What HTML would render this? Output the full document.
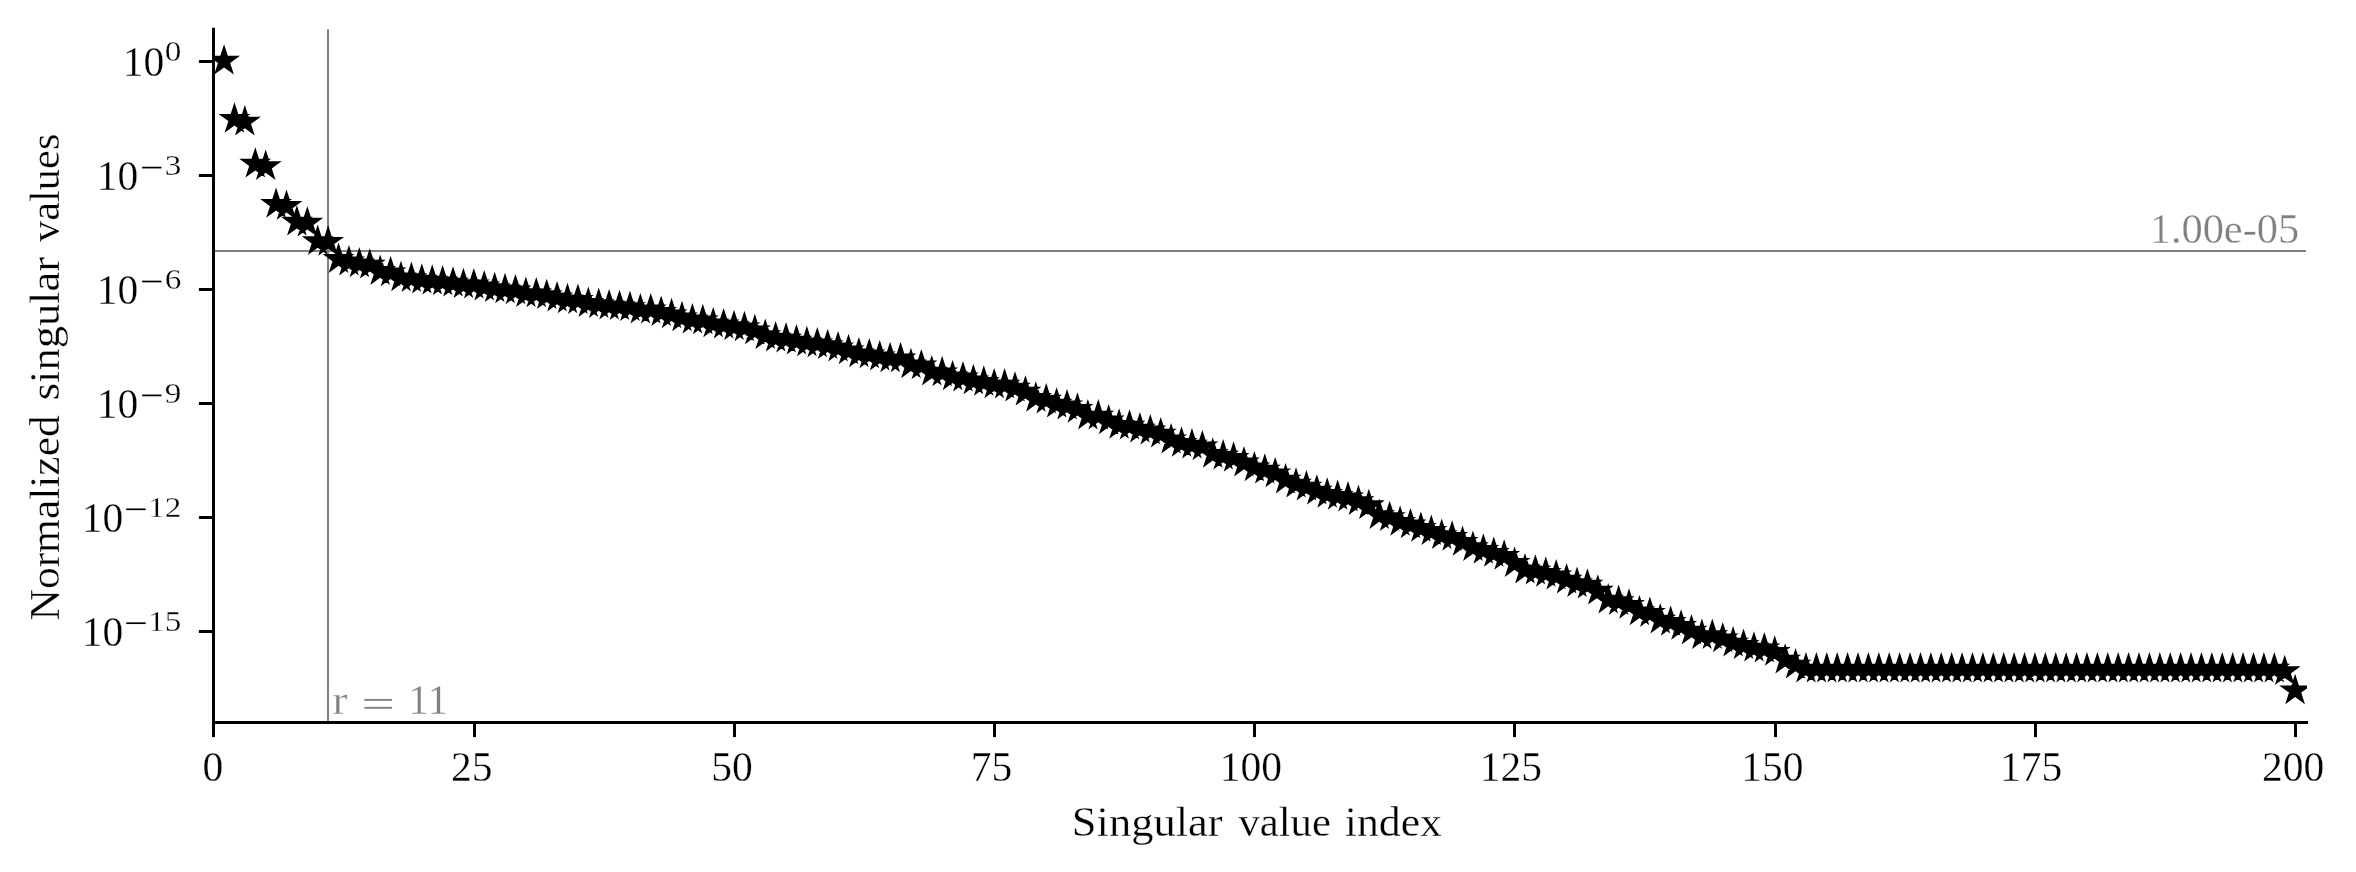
<!DOCTYPE html><html><head><meta charset="utf-8"><title>Singular values</title>
<style>html,body{margin:0;padding:0;background:#fff;}svg{display:block;will-change:transform;}text{font-family:"Liberation Serif",serif;stroke:#fff;stroke-width:0.3px;}</style></head><body>
<svg width="2356" height="872" viewBox="0 0 2356 872">
<rect width="2356" height="872" fill="#fff"/>
<defs><clipPath id="ax"><rect x="213.5" y="29.5" width="2093.5" height="693.0"/></clipPath></defs>
<line x1="213.5" x2="2306" y1="251" y2="251" stroke="#808080" stroke-width="2.05"/>
<line x1="328" x2="328" y1="29.2" y2="722.5" stroke="#808080" stroke-width="2.05"/>
<g clip-path="url(#ax)"><path d="M224.06,44.20L227.83,55.81L240.04,55.81L230.16,62.98L233.93,74.59L224.06,67.42L214.18,74.59L217.95,62.98L208.08,55.81L220.29,55.81ZM234.46,102.30L238.24,113.91L250.44,113.91L240.57,121.08L244.34,132.69L234.46,125.52L224.59,132.69L228.36,121.08L218.49,113.91L230.69,113.91ZM244.87,105.10L248.64,116.71L260.85,116.71L250.97,123.88L254.75,135.49L244.87,128.32L235.00,135.49L238.77,123.88L228.89,116.71L241.10,116.71ZM255.28,147.20L259.05,158.81L271.26,158.81L261.38,165.98L265.15,177.59L255.28,170.42L245.40,177.59L249.18,165.98L239.30,158.81L251.51,158.81ZM265.69,149.60L269.46,161.21L281.66,161.21L271.79,168.38L275.56,179.99L265.69,172.82L255.81,179.99L259.58,168.38L249.71,161.21L261.91,161.21ZM276.09,187.40L279.87,199.01L292.07,199.01L282.20,206.18L285.97,217.79L276.09,210.62L266.22,217.79L269.99,206.18L260.12,199.01L272.32,199.01ZM286.50,189.40L290.27,201.01L302.48,201.01L292.60,208.18L296.38,219.79L286.50,212.62L276.63,219.79L280.40,208.18L270.52,201.01L282.73,201.01ZM296.91,205.20L300.68,216.81L312.89,216.81L303.01,223.98L306.78,235.59L296.91,228.42L287.03,235.59L290.81,223.98L280.93,216.81L293.14,216.81ZM307.32,206.20L311.09,217.81L323.29,217.81L313.42,224.98L317.19,236.59L307.32,229.42L297.44,236.59L301.21,224.98L291.34,217.81L303.54,217.81ZM317.72,224.60L321.49,236.21L333.70,236.21L323.83,243.38L327.60,254.99L317.72,247.82L307.85,254.99L311.62,243.38L301.75,236.21L313.95,236.21ZM328.13,225.30L331.90,236.91L344.11,236.91L334.23,244.08L338.01,255.69L328.13,248.52L318.26,255.69L322.03,244.08L312.15,236.91L324.36,236.91ZM338.54,242.50L342.31,254.11L354.52,254.11L344.64,261.28L348.41,272.89L338.54,265.72L328.66,272.89L332.43,261.28L322.56,254.11L334.77,254.11ZM348.94,245.00L352.72,256.61L364.92,256.61L355.05,263.78L358.82,275.39L348.94,268.22L339.07,275.39L342.84,263.78L332.97,256.61L345.17,256.61ZM359.35,246.90L363.12,258.51L375.33,258.51L365.46,265.68L369.23,277.29L359.35,270.12L349.48,277.29L353.25,265.68L343.37,258.51L355.58,258.51ZM369.76,248.20L373.53,259.81L385.74,259.81L375.86,266.98L379.63,278.59L369.76,271.42L359.88,278.59L363.66,266.98L353.78,259.81L365.99,259.81ZM380.17,254.50L383.94,266.11L396.14,266.11L386.27,273.28L390.04,284.89L380.17,277.72L370.29,284.89L374.06,273.28L364.19,266.11L376.39,266.11ZM390.57,255.80L394.35,267.41L406.55,267.41L396.68,274.58L400.45,286.19L390.57,279.02L380.70,286.19L384.47,274.58L374.60,267.41L386.80,267.41ZM400.98,260.80L404.75,272.41L416.96,272.41L407.08,279.58L410.86,291.19L400.98,284.02L391.11,291.19L394.88,279.58L385.00,272.41L397.21,272.41ZM411.39,261.60L415.16,273.21L427.37,273.21L417.49,280.38L421.26,291.99L411.39,284.82L401.51,291.99L405.29,280.38L395.41,273.21L407.62,273.21ZM421.80,263.20L425.57,274.81L437.77,274.81L427.90,281.98L431.67,293.59L421.80,286.42L411.92,293.59L415.69,281.98L405.82,274.81L418.02,274.81ZM432.20,264.20L435.98,275.81L448.18,275.81L438.31,282.98L442.08,294.59L432.20,287.42L422.33,294.59L426.10,282.98L416.23,275.81L428.43,275.81ZM442.61,264.90L446.38,276.51L458.59,276.51L448.71,283.68L452.49,295.29L442.61,288.12L432.74,295.29L436.51,283.68L426.63,276.51L438.84,276.51ZM453.02,266.20L456.79,277.81L469.00,277.81L459.12,284.98L462.89,296.59L453.02,289.42L443.14,296.59L446.91,284.98L437.04,277.81L449.25,277.81ZM463.43,267.70L467.20,279.31L479.40,279.31L469.53,286.48L473.30,298.09L463.43,290.92L453.55,298.09L457.32,286.48L447.45,279.31L459.65,279.31ZM473.83,268.00L477.60,279.61L489.81,279.61L479.94,286.78L483.71,298.39L473.83,291.22L463.96,298.39L467.73,286.78L457.85,279.61L470.06,279.61ZM484.24,270.00L488.01,281.61L500.22,281.61L490.34,288.78L494.11,300.39L484.24,293.22L474.37,300.39L478.14,288.78L468.26,281.61L480.47,281.61ZM494.65,271.70L498.42,283.31L510.62,283.31L500.75,290.48L504.52,302.09L494.65,294.92L484.77,302.09L488.54,290.48L478.67,283.31L490.88,283.31ZM505.05,272.80L508.83,284.41L521.03,284.41L511.16,291.58L514.93,303.19L505.05,296.02L495.18,303.19L498.95,291.58L489.08,284.41L501.28,284.41ZM515.46,273.90L519.23,285.51L531.44,285.51L521.56,292.68L525.34,304.29L515.46,297.12L505.59,304.29L509.36,292.68L499.48,285.51L511.69,285.51ZM525.87,276.60L529.64,288.21L541.85,288.21L531.97,295.38L535.74,306.99L525.87,299.82L515.99,306.99L519.77,295.38L509.89,288.21L522.10,288.21ZM536.28,276.90L540.05,288.51L552.25,288.51L542.38,295.68L546.15,307.29L536.28,300.12L526.40,307.29L530.17,295.68L520.30,288.51L532.50,288.51ZM546.68,278.70L550.46,290.31L562.66,290.31L552.79,297.48L556.56,309.09L546.68,301.92L536.81,309.09L540.58,297.48L530.71,290.31L542.91,290.31ZM557.09,281.00L560.86,292.61L573.07,292.61L563.19,299.78L566.97,311.39L557.09,304.22L547.22,311.39L550.99,299.78L541.11,292.61L553.32,292.61ZM567.50,282.80L571.27,294.41L583.48,294.41L573.60,301.58L577.37,313.19L567.50,306.02L557.62,313.19L561.40,301.58L551.52,294.41L563.73,294.41ZM577.91,283.50L581.68,295.11L593.88,295.11L584.01,302.28L587.78,313.89L577.91,306.72L568.03,313.89L571.80,302.28L561.93,295.11L574.13,295.11ZM588.31,286.50L592.08,298.11L604.29,298.11L594.42,305.28L598.19,316.89L588.31,309.72L578.44,316.89L582.21,305.28L572.34,298.11L584.54,298.11ZM598.72,287.60L602.49,299.21L614.70,299.21L604.82,306.38L608.59,317.99L598.72,310.82L588.85,317.99L592.62,306.38L582.74,299.21L594.95,299.21ZM609.13,289.00L612.90,300.61L625.11,300.61L615.23,307.78L619.00,319.39L609.13,312.22L599.25,319.39L603.02,307.78L593.15,300.61L605.36,300.61ZM619.53,289.70L623.31,301.31L635.51,301.31L625.64,308.48L629.41,320.09L619.53,312.92L609.66,320.09L613.43,308.48L603.56,301.31L615.76,301.31ZM629.94,290.70L633.71,302.31L645.92,302.31L636.04,309.48L639.82,321.09L629.94,313.92L620.07,321.09L623.84,309.48L613.96,302.31L626.17,302.31ZM640.35,293.00L644.12,304.61L656.33,304.61L646.45,311.78L650.22,323.39L640.35,316.22L630.47,323.39L634.25,311.78L624.37,304.61L636.58,304.61ZM650.76,293.00L654.53,304.61L666.73,304.61L656.86,311.78L660.63,323.39L650.76,316.22L640.88,323.39L644.65,311.78L634.78,304.61L646.98,304.61ZM661.16,295.50L664.94,307.11L677.14,307.11L667.27,314.28L671.04,325.89L661.16,318.72L651.29,325.89L655.06,314.28L645.19,307.11L657.39,307.11ZM671.57,297.80L675.34,309.41L687.55,309.41L677.67,316.58L681.45,328.19L671.57,321.02L661.70,328.19L665.47,316.58L655.59,309.41L667.80,309.41ZM681.98,300.80L685.75,312.41L697.96,312.41L688.08,319.58L691.85,331.19L681.98,324.02L672.10,331.19L675.88,319.58L666.00,312.41L678.21,312.41ZM692.39,303.00L696.16,314.61L708.36,314.61L698.49,321.78L702.26,333.39L692.39,326.22L682.51,333.39L686.28,321.78L676.41,314.61L688.61,314.61ZM702.79,303.80L706.56,315.41L718.77,315.41L708.90,322.58L712.67,334.19L702.79,327.02L692.92,334.19L696.69,322.58L686.82,315.41L699.02,315.41ZM713.20,306.90L716.97,318.51L729.18,318.51L719.30,325.68L723.08,337.29L713.20,330.12L703.33,337.29L707.10,325.68L697.22,318.51L709.43,318.51ZM723.61,308.00L727.38,319.61L739.59,319.61L729.71,326.78L733.48,338.39L723.61,331.22L713.73,338.39L717.50,326.78L707.63,319.61L719.84,319.61ZM734.01,309.70L737.79,321.31L749.99,321.31L740.12,328.48L743.89,340.09L734.01,332.92L724.14,340.09L727.91,328.48L718.04,321.31L730.24,321.31ZM744.42,310.80L748.19,322.41L760.40,322.41L750.53,329.58L754.30,341.19L744.42,334.02L734.55,341.19L738.32,329.58L728.44,322.41L740.65,322.41ZM754.83,313.80L758.60,325.41L770.81,325.41L760.93,332.58L764.70,344.19L754.83,337.02L744.95,344.19L748.73,332.58L738.85,325.41L751.06,325.41ZM765.24,318.60L769.01,330.21L781.21,330.21L771.34,337.38L775.11,348.99L765.24,341.82L755.36,348.99L759.13,337.38L749.26,330.21L761.47,330.21ZM775.64,321.10L779.42,332.71L791.62,332.71L781.75,339.88L785.52,351.49L775.64,344.32L765.77,351.49L769.54,339.88L759.67,332.71L771.87,332.71ZM786.05,322.10L789.82,333.71L802.03,333.71L792.15,340.88L795.93,352.49L786.05,345.32L776.18,352.49L779.95,340.88L770.07,333.71L782.28,333.71ZM796.46,324.10L800.23,335.71L812.44,335.71L802.56,342.88L806.33,354.49L796.46,347.32L786.58,354.49L790.36,342.88L780.48,335.71L792.69,335.71ZM806.87,325.80L810.64,337.41L822.84,337.41L812.97,344.58L816.74,356.19L806.87,349.02L796.99,356.19L800.76,344.58L790.89,337.41L803.09,337.41ZM817.27,326.90L821.05,338.51L833.25,338.51L823.38,345.68L827.15,357.29L817.27,350.12L807.40,357.29L811.17,345.68L801.30,338.51L813.50,338.51ZM827.68,328.70L831.45,340.31L843.66,340.31L833.78,347.48L837.56,359.09L827.68,351.92L817.81,359.09L821.58,347.48L811.70,340.31L823.91,340.31ZM838.09,331.00L841.86,342.61L854.07,342.61L844.19,349.78L847.96,361.39L838.09,354.22L828.21,361.39L831.99,349.78L822.11,342.61L834.32,342.61ZM848.50,333.80L852.27,345.41L864.47,345.41L854.60,352.58L858.37,364.19L848.50,357.02L838.62,364.19L842.39,352.58L832.52,345.41L844.72,345.41ZM858.90,336.90L862.67,348.51L874.88,348.51L865.01,355.68L868.78,367.29L858.90,360.12L849.03,367.29L852.80,355.68L842.92,348.51L855.13,348.51ZM869.31,337.90L873.08,349.51L885.29,349.51L875.41,356.68L879.18,368.29L869.31,361.12L859.44,368.29L863.21,356.68L853.33,349.51L865.54,349.51ZM879.72,340.00L883.49,351.61L895.69,351.61L885.82,358.78L889.59,370.39L879.72,363.22L869.84,370.39L873.61,358.78L863.74,351.61L875.95,351.61ZM890.12,341.80L893.90,353.41L906.10,353.41L896.23,360.58L900.00,372.19L890.12,365.02L880.25,372.19L884.02,360.58L874.15,353.41L886.35,353.41ZM900.53,341.80L904.30,353.41L916.51,353.41L906.63,360.58L910.41,372.19L900.53,365.02L890.66,372.19L894.43,360.58L884.55,353.41L896.76,353.41ZM910.94,347.80L914.71,359.41L926.92,359.41L917.04,366.58L920.81,378.19L910.94,371.02L901.06,378.19L904.84,366.58L894.96,359.41L907.17,359.41ZM921.35,348.90L925.12,360.51L937.32,360.51L927.45,367.68L931.22,379.29L921.35,372.12L911.47,379.29L915.24,367.68L905.37,360.51L917.57,360.51ZM931.75,355.10L935.53,366.71L947.73,366.71L937.86,373.88L941.63,385.49L931.75,378.32L921.88,385.49L925.65,373.88L915.78,366.71L927.98,366.71ZM942.16,355.80L945.93,367.41L958.14,367.41L948.26,374.58L952.04,386.19L942.16,379.02L932.29,386.19L936.06,374.58L926.18,367.41L938.39,367.41ZM952.57,359.90L956.34,371.51L968.55,371.51L958.67,378.68L962.44,390.29L952.57,383.12L942.69,390.29L946.47,378.68L936.59,371.51L948.80,371.51ZM962.98,361.00L966.75,372.61L978.95,372.61L969.08,379.78L972.85,391.39L962.98,384.22L953.10,391.39L956.87,379.78L947.00,372.61L959.20,372.61ZM973.38,363.80L977.15,375.41L989.36,375.41L979.49,382.58L983.26,394.19L973.38,387.02L963.51,394.19L967.28,382.58L957.41,375.41L969.61,375.41ZM983.79,365.30L987.56,376.91L999.77,376.91L989.89,384.08L993.66,395.69L983.79,388.52L973.92,395.69L977.69,384.08L967.81,376.91L980.02,376.91ZM994.20,367.90L997.97,379.51L1010.18,379.51L1000.30,386.68L1004.07,398.29L994.20,391.12L984.32,398.29L988.09,386.68L978.22,379.51L990.43,379.51ZM1004.60,368.10L1008.38,379.71L1020.58,379.71L1010.71,386.88L1014.48,398.49L1004.60,391.32L994.73,398.49L998.50,386.88L988.63,379.71L1000.83,379.71ZM1015.01,371.20L1018.78,382.81L1030.99,382.81L1021.12,389.98L1024.89,401.59L1015.01,394.42L1005.14,401.59L1008.91,389.98L999.03,382.81L1011.24,382.81ZM1025.42,375.20L1029.19,386.81L1041.40,386.81L1031.52,393.98L1035.29,405.59L1025.42,398.42L1015.54,405.59L1019.32,393.98L1009.44,386.81L1021.65,386.81ZM1035.83,381.30L1039.60,392.91L1051.80,392.91L1041.93,400.08L1045.70,411.69L1035.83,404.52L1025.95,411.69L1029.72,400.08L1019.85,392.91L1032.05,392.91ZM1046.23,383.10L1050.01,394.71L1062.21,394.71L1052.34,401.88L1056.11,413.49L1046.23,406.32L1036.36,413.49L1040.13,401.88L1030.26,394.71L1042.46,394.71ZM1056.64,387.20L1060.41,398.81L1072.62,398.81L1062.74,405.98L1066.52,417.59L1056.64,410.42L1046.77,417.59L1050.54,405.98L1040.66,398.81L1052.87,398.81ZM1067.05,389.00L1070.82,400.61L1083.03,400.61L1073.15,407.78L1076.92,419.39L1067.05,412.22L1057.17,419.39L1060.95,407.78L1051.07,400.61L1063.28,400.61ZM1077.46,392.30L1081.23,403.91L1093.43,403.91L1083.56,411.08L1087.33,422.69L1077.46,415.52L1067.58,422.69L1071.35,411.08L1061.48,403.91L1073.68,403.91ZM1087.86,399.10L1091.64,410.71L1103.84,410.71L1093.97,417.88L1097.74,429.49L1087.86,422.32L1077.99,429.49L1081.76,417.88L1071.89,410.71L1084.09,410.71ZM1098.27,399.10L1102.04,410.71L1114.25,410.71L1104.37,417.88L1108.15,429.49L1098.27,422.32L1088.40,429.49L1092.17,417.88L1082.29,410.71L1094.50,410.71ZM1108.68,403.90L1112.45,415.51L1124.66,415.51L1114.78,422.68L1118.55,434.29L1108.68,427.12L1098.80,434.29L1102.57,422.68L1092.70,415.51L1104.91,415.51ZM1119.09,408.30L1122.86,419.91L1135.06,419.91L1125.19,427.08L1128.96,438.69L1119.09,431.52L1109.21,438.69L1112.98,427.08L1103.11,419.91L1115.31,419.91ZM1129.49,409.20L1133.26,420.81L1145.47,420.81L1135.60,427.98L1139.37,439.59L1129.49,432.42L1119.62,439.59L1123.39,427.98L1113.51,420.81L1125.72,420.81ZM1139.90,412.10L1143.67,423.71L1155.88,423.71L1146.00,430.88L1149.77,442.49L1139.90,435.32L1130.02,442.49L1133.80,430.88L1123.92,423.71L1136.13,423.71ZM1150.31,414.00L1154.08,425.61L1166.28,425.61L1156.41,432.78L1160.18,444.39L1150.31,437.22L1140.43,444.39L1144.20,432.78L1134.33,425.61L1146.54,425.61ZM1160.71,417.10L1164.49,428.71L1176.69,428.71L1166.82,435.88L1170.59,447.49L1160.71,440.32L1150.84,447.49L1154.61,435.88L1144.74,428.71L1156.94,428.71ZM1171.12,423.00L1174.89,434.61L1187.10,434.61L1177.22,441.78L1181.00,453.39L1171.12,446.22L1161.25,453.39L1165.02,441.78L1155.14,434.61L1167.35,434.61ZM1181.53,426.30L1185.30,437.91L1197.51,437.91L1187.63,445.08L1191.40,456.69L1181.53,449.52L1171.65,456.69L1175.43,445.08L1165.55,437.91L1177.76,437.91ZM1191.94,428.10L1195.71,439.71L1207.91,439.71L1198.04,446.88L1201.81,458.49L1191.94,451.32L1182.06,458.49L1185.83,446.88L1175.96,439.71L1188.16,439.71ZM1202.34,429.90L1206.12,441.51L1218.32,441.51L1208.45,448.68L1212.22,460.29L1202.34,453.12L1192.47,460.29L1196.24,448.68L1186.37,441.51L1198.57,441.51ZM1212.75,437.30L1216.52,448.91L1228.73,448.91L1218.85,456.08L1222.63,467.69L1212.75,460.52L1202.88,467.69L1206.65,456.08L1196.77,448.91L1208.98,448.91ZM1223.16,439.10L1226.93,450.71L1239.14,450.71L1229.26,457.88L1233.03,469.49L1223.16,462.32L1213.28,469.49L1217.06,457.88L1207.18,450.71L1219.39,450.71ZM1233.57,441.30L1237.34,452.91L1249.54,452.91L1239.67,460.08L1243.44,471.69L1233.57,464.52L1223.69,471.69L1227.46,460.08L1217.59,452.91L1229.79,452.91ZM1243.97,446.00L1247.74,457.61L1259.95,457.61L1250.08,464.78L1253.85,476.39L1243.97,469.22L1234.10,476.39L1237.87,464.78L1227.99,457.61L1240.20,457.61ZM1254.38,450.90L1258.15,462.51L1270.36,462.51L1260.48,469.68L1264.25,481.29L1254.38,474.12L1244.51,481.29L1248.28,469.68L1238.40,462.51L1250.61,462.51ZM1264.79,453.20L1268.56,464.81L1280.77,464.81L1270.89,471.98L1274.66,483.59L1264.79,476.42L1254.91,483.59L1258.68,471.98L1248.81,464.81L1261.02,464.81ZM1275.19,456.90L1278.97,468.51L1291.17,468.51L1281.30,475.68L1285.07,487.29L1275.19,480.12L1265.32,487.29L1269.09,475.68L1259.22,468.51L1271.42,468.51ZM1285.60,463.10L1289.37,474.71L1301.58,474.71L1291.70,481.88L1295.48,493.49L1285.60,486.32L1275.73,493.49L1279.50,481.88L1269.62,474.71L1281.83,474.71ZM1296.01,467.20L1299.78,478.81L1311.99,478.81L1302.11,485.98L1305.88,497.59L1296.01,490.42L1286.13,497.59L1289.91,485.98L1280.03,478.81L1292.24,478.81ZM1306.42,470.10L1310.19,481.71L1322.39,481.71L1312.52,488.88L1316.29,500.49L1306.42,493.32L1296.54,500.49L1300.31,488.88L1290.44,481.71L1302.64,481.71ZM1316.82,474.20L1320.60,485.81L1332.80,485.81L1322.93,492.98L1326.70,504.59L1316.82,497.42L1306.95,504.59L1310.72,492.98L1300.85,485.81L1313.05,485.81ZM1327.23,477.30L1331.00,488.91L1343.21,488.91L1333.33,496.08L1337.11,507.69L1327.23,500.52L1317.36,507.69L1321.13,496.08L1311.25,488.91L1323.46,488.91ZM1337.64,479.40L1341.41,491.01L1353.62,491.01L1343.74,498.18L1347.51,509.79L1337.64,502.62L1327.76,509.79L1331.54,498.18L1321.66,491.01L1333.87,491.01ZM1348.05,481.00L1351.82,492.61L1364.02,492.61L1354.15,499.78L1357.92,511.39L1348.05,504.22L1338.17,511.39L1341.94,499.78L1332.07,492.61L1344.27,492.61ZM1358.45,484.60L1362.22,496.21L1374.43,496.21L1364.56,503.38L1368.33,514.99L1358.45,507.82L1348.58,514.99L1352.35,503.38L1342.48,496.21L1354.68,496.21ZM1368.86,488.70L1372.63,500.31L1384.84,500.31L1374.96,507.48L1378.74,519.09L1368.86,511.92L1358.99,519.09L1362.76,507.48L1352.88,500.31L1365.09,500.31ZM1379.27,498.60L1383.04,510.21L1395.25,510.21L1385.37,517.38L1389.14,528.99L1379.27,521.82L1369.39,528.99L1373.16,517.38L1363.29,510.21L1375.50,510.21ZM1389.67,500.70L1393.45,512.31L1405.65,512.31L1395.78,519.48L1399.55,531.09L1389.67,523.92L1379.80,531.09L1383.57,519.48L1373.70,512.31L1385.90,512.31ZM1400.08,505.40L1403.85,517.01L1416.06,517.01L1406.19,524.18L1409.96,535.79L1400.08,528.62L1390.21,535.79L1393.98,524.18L1384.10,517.01L1396.31,517.01ZM1410.49,507.90L1414.26,519.51L1426.47,519.51L1416.59,526.68L1420.36,538.29L1410.49,531.12L1400.61,538.29L1404.39,526.68L1394.51,519.51L1406.72,519.51ZM1420.90,511.40L1424.67,523.01L1436.87,523.01L1427.00,530.18L1430.77,541.79L1420.90,534.62L1411.02,541.79L1414.79,530.18L1404.92,523.01L1417.12,523.01ZM1431.30,514.50L1435.08,526.11L1447.28,526.11L1437.41,533.28L1441.18,544.89L1431.30,537.72L1421.43,544.89L1425.20,533.28L1415.33,526.11L1427.53,526.11ZM1441.71,518.60L1445.48,530.21L1457.69,530.21L1447.81,537.38L1451.59,548.99L1441.71,541.82L1431.84,548.99L1435.61,537.38L1425.73,530.21L1437.94,530.21ZM1452.12,520.30L1455.89,531.91L1468.10,531.91L1458.22,539.08L1461.99,550.69L1452.12,543.52L1442.24,550.69L1446.02,539.08L1436.14,531.91L1448.35,531.91ZM1462.53,525.40L1466.30,537.01L1478.50,537.01L1468.63,544.18L1472.40,555.79L1462.53,548.62L1452.65,555.79L1456.42,544.18L1446.55,537.01L1458.75,537.01ZM1472.93,530.60L1476.71,542.21L1488.91,542.21L1479.04,549.38L1482.81,560.99L1472.93,553.82L1463.06,560.99L1466.83,549.38L1456.96,542.21L1469.16,542.21ZM1483.34,533.30L1487.11,544.91L1499.32,544.91L1489.44,552.08L1493.22,563.69L1483.34,556.52L1473.47,563.69L1477.24,552.08L1467.36,544.91L1479.57,544.91ZM1493.75,536.40L1497.52,548.01L1509.73,548.01L1499.85,555.18L1503.62,566.79L1493.75,559.62L1483.87,566.79L1487.64,555.18L1477.77,548.01L1489.98,548.01ZM1504.16,539.30L1507.93,550.91L1520.13,550.91L1510.26,558.08L1514.03,569.69L1504.16,562.52L1494.28,569.69L1498.05,558.08L1488.18,550.91L1500.38,550.91ZM1514.56,546.50L1518.33,558.11L1530.54,558.11L1520.67,565.28L1524.44,576.89L1514.56,569.72L1504.69,576.89L1508.46,565.28L1498.58,558.11L1510.79,558.11ZM1524.97,553.00L1528.74,564.61L1540.95,564.61L1531.07,571.78L1534.84,583.39L1524.97,576.22L1515.10,583.39L1518.87,571.78L1508.99,564.61L1521.20,564.61ZM1535.38,554.20L1539.15,565.81L1551.35,565.81L1541.48,572.98L1545.25,584.59L1535.38,577.42L1525.50,584.59L1529.27,572.98L1519.40,565.81L1531.61,565.81ZM1545.78,556.30L1549.56,567.91L1561.76,567.91L1551.89,575.08L1555.66,586.69L1545.78,579.52L1535.91,586.69L1539.68,575.08L1529.81,567.91L1542.01,567.91ZM1556.19,559.00L1559.96,570.61L1572.17,570.61L1562.29,577.78L1566.07,589.39L1556.19,582.22L1546.32,589.39L1550.09,577.78L1540.21,570.61L1552.42,570.61ZM1566.60,563.10L1570.37,574.71L1582.58,574.71L1572.70,581.88L1576.47,593.49L1566.60,586.32L1556.72,593.49L1560.50,581.88L1550.62,574.71L1562.83,574.71ZM1577.01,566.60L1580.78,578.21L1592.98,578.21L1583.11,585.38L1586.88,596.99L1577.01,589.82L1567.13,596.99L1570.90,585.38L1561.03,578.21L1573.23,578.21ZM1587.41,568.20L1591.19,579.81L1603.39,579.81L1593.52,586.98L1597.29,598.59L1587.41,591.42L1577.54,598.59L1581.31,586.98L1571.44,579.81L1583.64,579.81ZM1597.82,574.20L1601.59,585.81L1613.80,585.81L1603.92,592.98L1607.70,604.59L1597.82,597.42L1587.95,604.59L1591.72,592.98L1581.84,585.81L1594.05,585.81ZM1608.23,583.10L1612.00,594.71L1624.21,594.71L1614.33,601.88L1618.10,613.49L1608.23,606.32L1598.35,613.49L1602.13,601.88L1592.25,594.71L1604.46,594.71ZM1618.64,584.60L1622.41,596.21L1634.61,596.21L1624.74,603.38L1628.51,614.99L1618.64,607.82L1608.76,614.99L1612.53,603.38L1602.66,596.21L1614.86,596.21ZM1629.04,588.30L1632.81,599.91L1645.02,599.91L1635.15,607.08L1638.92,618.69L1629.04,611.52L1619.17,618.69L1622.94,607.08L1613.07,599.91L1625.27,599.91ZM1639.45,594.90L1643.22,606.51L1655.43,606.51L1645.55,613.68L1649.32,625.29L1639.45,618.12L1629.58,625.29L1633.35,613.68L1623.47,606.51L1635.68,606.51ZM1649.86,596.50L1653.63,608.11L1665.84,608.11L1655.96,615.28L1659.73,626.89L1649.86,619.72L1639.98,626.89L1643.75,615.28L1633.88,608.11L1646.09,608.11ZM1660.26,603.10L1664.04,614.71L1676.24,614.71L1666.37,621.88L1670.14,633.49L1660.26,626.32L1650.39,633.49L1654.16,621.88L1644.29,614.71L1656.49,614.71ZM1670.67,605.40L1674.44,617.01L1686.65,617.01L1676.77,624.18L1680.55,635.79L1670.67,628.62L1660.80,635.79L1664.57,624.18L1654.69,617.01L1666.90,617.01ZM1681.08,609.30L1684.85,620.91L1697.06,620.91L1687.18,628.08L1690.95,639.69L1681.08,632.52L1671.20,639.69L1674.98,628.08L1665.10,620.91L1677.31,620.91ZM1691.49,614.10L1695.26,625.71L1707.46,625.71L1697.59,632.88L1701.36,644.49L1691.49,637.32L1681.61,644.49L1685.38,632.88L1675.51,625.71L1687.71,625.71ZM1701.89,618.60L1705.67,630.21L1717.87,630.21L1708.00,637.38L1711.77,648.99L1701.89,641.82L1692.02,648.99L1695.79,637.38L1685.92,630.21L1698.12,630.21ZM1712.30,618.60L1716.07,630.21L1728.28,630.21L1718.40,637.38L1722.18,648.99L1712.30,641.82L1702.43,648.99L1706.20,637.38L1696.32,630.21L1708.53,630.21ZM1722.71,621.90L1726.48,633.51L1738.69,633.51L1728.81,640.68L1732.58,652.29L1722.71,645.12L1712.83,652.29L1716.61,640.68L1706.73,633.51L1718.94,633.51ZM1733.12,626.10L1736.89,637.71L1749.09,637.71L1739.22,644.88L1742.99,656.49L1733.12,649.32L1723.24,656.49L1727.01,644.88L1717.14,637.71L1729.34,637.71ZM1743.52,628.50L1747.29,640.11L1759.50,640.11L1749.63,647.28L1753.40,658.89L1743.52,651.72L1733.65,658.89L1737.42,647.28L1727.55,640.11L1739.75,640.11ZM1753.93,631.20L1757.70,642.81L1769.91,642.81L1760.03,649.98L1763.81,661.59L1753.93,654.42L1744.06,661.59L1747.83,649.98L1737.95,642.81L1750.16,642.81ZM1764.34,632.00L1768.11,643.61L1780.32,643.61L1770.44,650.78L1774.21,662.39L1764.34,655.22L1754.46,662.39L1758.23,650.78L1748.36,643.61L1760.57,643.61ZM1774.74,635.30L1778.52,646.91L1790.72,646.91L1780.85,654.08L1784.62,665.69L1774.74,658.52L1764.87,665.69L1768.64,654.08L1758.77,646.91L1770.97,646.91ZM1785.15,643.20L1788.92,654.81L1801.13,654.81L1791.26,661.98L1795.03,673.59L1785.15,666.42L1775.28,673.59L1779.05,661.98L1769.17,654.81L1781.38,654.81ZM1795.56,648.10L1799.33,659.71L1811.54,659.71L1801.66,666.88L1805.43,678.49L1795.56,671.32L1785.68,678.49L1789.46,666.88L1779.58,659.71L1791.79,659.71ZM1805.97,652.10L1809.74,663.71L1821.94,663.71L1812.07,670.88L1815.84,682.49L1805.97,675.32L1796.09,682.49L1799.86,670.88L1789.99,663.71L1802.20,663.71ZM1816.37,652.10L1820.15,663.71L1832.35,663.71L1822.48,670.88L1826.25,682.49L1816.37,675.32L1806.50,682.49L1810.27,670.88L1800.40,663.71L1812.60,663.71ZM1826.78,652.10L1830.55,663.71L1842.76,663.71L1832.88,670.88L1836.66,682.49L1826.78,675.32L1816.91,682.49L1820.68,670.88L1810.80,663.71L1823.01,663.71ZM1837.19,652.10L1840.96,663.71L1853.17,663.71L1843.29,670.88L1847.06,682.49L1837.19,675.32L1827.31,682.49L1831.09,670.88L1821.21,663.71L1833.42,663.71ZM1847.60,652.10L1851.37,663.71L1863.57,663.71L1853.70,670.88L1857.47,682.49L1847.60,675.32L1837.72,682.49L1841.49,670.88L1831.62,663.71L1843.82,663.71ZM1858.00,652.10L1861.78,663.71L1873.98,663.71L1864.11,670.88L1867.88,682.49L1858.00,675.32L1848.13,682.49L1851.90,670.88L1842.03,663.71L1854.23,663.71ZM1868.41,652.10L1872.18,663.71L1884.39,663.71L1874.51,670.88L1878.29,682.49L1868.41,675.32L1858.54,682.49L1862.31,670.88L1852.43,663.71L1864.64,663.71ZM1878.82,652.10L1882.59,663.71L1894.80,663.71L1884.92,670.88L1888.69,682.49L1878.82,675.32L1868.94,682.49L1872.72,670.88L1862.84,663.71L1875.05,663.71ZM1889.23,652.10L1893.00,663.71L1905.20,663.71L1895.33,670.88L1899.10,682.49L1889.23,675.32L1879.35,682.49L1883.12,670.88L1873.25,663.71L1885.45,663.71ZM1899.63,652.10L1903.40,663.71L1915.61,663.71L1905.74,670.88L1909.51,682.49L1899.63,675.32L1889.76,682.49L1893.53,670.88L1883.65,663.71L1895.86,663.71ZM1910.04,652.10L1913.81,663.71L1926.02,663.71L1916.14,670.88L1919.91,682.49L1910.04,675.32L1900.17,682.49L1903.94,670.88L1894.06,663.71L1906.27,663.71ZM1920.45,652.10L1924.22,663.71L1936.42,663.71L1926.55,670.88L1930.32,682.49L1920.45,675.32L1910.57,682.49L1914.34,670.88L1904.47,663.71L1916.68,663.71ZM1930.85,652.10L1934.63,663.71L1946.83,663.71L1936.96,670.88L1940.73,682.49L1930.85,675.32L1920.98,682.49L1924.75,670.88L1914.88,663.71L1927.08,663.71ZM1941.26,652.10L1945.03,663.71L1957.24,663.71L1947.36,670.88L1951.14,682.49L1941.26,675.32L1931.39,682.49L1935.16,670.88L1925.28,663.71L1937.49,663.71ZM1951.67,652.10L1955.44,663.71L1967.65,663.71L1957.77,670.88L1961.54,682.49L1951.67,675.32L1941.79,682.49L1945.57,670.88L1935.69,663.71L1947.90,663.71ZM1962.08,652.10L1965.85,663.71L1978.05,663.71L1968.18,670.88L1971.95,682.49L1962.08,675.32L1952.20,682.49L1955.97,670.88L1946.10,663.71L1958.30,663.71ZM1972.48,652.10L1976.26,663.71L1988.46,663.71L1978.59,670.88L1982.36,682.49L1972.48,675.32L1962.61,682.49L1966.38,670.88L1956.51,663.71L1968.71,663.71ZM1982.89,652.10L1986.66,663.71L1998.87,663.71L1988.99,670.88L1992.77,682.49L1982.89,675.32L1973.02,682.49L1976.79,670.88L1966.91,663.71L1979.12,663.71ZM1993.30,652.10L1997.07,663.71L2009.28,663.71L1999.40,670.88L2003.17,682.49L1993.30,675.32L1983.42,682.49L1987.20,670.88L1977.32,663.71L1989.53,663.71ZM2003.71,652.10L2007.48,663.71L2019.68,663.71L2009.81,670.88L2013.58,682.49L2003.71,675.32L1993.83,682.49L1997.60,670.88L1987.73,663.71L1999.93,663.71ZM2014.11,652.10L2017.88,663.71L2030.09,663.71L2020.22,670.88L2023.99,682.49L2014.11,675.32L2004.24,682.49L2008.01,670.88L1998.14,663.71L2010.34,663.71ZM2024.52,652.10L2028.29,663.71L2040.50,663.71L2030.62,670.88L2034.39,682.49L2024.52,675.32L2014.65,682.49L2018.42,670.88L2008.54,663.71L2020.75,663.71ZM2034.93,652.10L2038.70,663.71L2050.91,663.71L2041.03,670.88L2044.80,682.49L2034.93,675.32L2025.05,682.49L2028.82,670.88L2018.95,663.71L2031.16,663.71ZM2045.33,652.10L2049.11,663.71L2061.31,663.71L2051.44,670.88L2055.21,682.49L2045.33,675.32L2035.46,682.49L2039.23,670.88L2029.36,663.71L2041.56,663.71ZM2055.74,652.10L2059.51,663.71L2071.72,663.71L2061.85,670.88L2065.62,682.49L2055.74,675.32L2045.87,682.49L2049.64,670.88L2039.76,663.71L2051.97,663.71ZM2066.15,652.10L2069.92,663.71L2082.13,663.71L2072.25,670.88L2076.02,682.49L2066.15,675.32L2056.27,682.49L2060.05,670.88L2050.17,663.71L2062.38,663.71ZM2076.56,652.10L2080.33,663.71L2092.53,663.71L2082.66,670.88L2086.43,682.49L2076.56,675.32L2066.68,682.49L2070.45,670.88L2060.58,663.71L2072.78,663.71ZM2086.96,652.10L2090.74,663.71L2102.94,663.71L2093.07,670.88L2096.84,682.49L2086.96,675.32L2077.09,682.49L2080.86,670.88L2070.99,663.71L2083.19,663.71ZM2097.37,652.10L2101.14,663.71L2113.35,663.71L2103.47,670.88L2107.25,682.49L2097.37,675.32L2087.50,682.49L2091.27,670.88L2081.39,663.71L2093.60,663.71ZM2107.78,652.10L2111.55,663.71L2123.76,663.71L2113.88,670.88L2117.65,682.49L2107.78,675.32L2097.90,682.49L2101.68,670.88L2091.80,663.71L2104.01,663.71ZM2118.19,652.10L2121.96,663.71L2134.16,663.71L2124.29,670.88L2128.06,682.49L2118.19,675.32L2108.31,682.49L2112.08,670.88L2102.21,663.71L2114.41,663.71ZM2128.59,652.10L2132.37,663.71L2144.57,663.71L2134.70,670.88L2138.47,682.49L2128.59,675.32L2118.72,682.49L2122.49,670.88L2112.62,663.71L2124.82,663.71ZM2139.00,652.10L2142.77,663.71L2154.98,663.71L2145.10,670.88L2148.88,682.49L2139.00,675.32L2129.13,682.49L2132.90,670.88L2123.02,663.71L2135.23,663.71ZM2149.41,652.10L2153.18,663.71L2165.39,663.71L2155.51,670.88L2159.28,682.49L2149.41,675.32L2139.53,682.49L2143.30,670.88L2133.43,663.71L2145.64,663.71ZM2159.82,652.10L2163.59,663.71L2175.79,663.71L2165.92,670.88L2169.69,682.49L2159.82,675.32L2149.94,682.49L2153.71,670.88L2143.84,663.71L2156.04,663.71ZM2170.22,652.10L2173.99,663.71L2186.20,663.71L2176.33,670.88L2180.10,682.49L2170.22,675.32L2160.35,682.49L2164.12,670.88L2154.24,663.71L2166.45,663.71ZM2180.63,652.10L2184.40,663.71L2196.61,663.71L2186.73,670.88L2190.50,682.49L2180.63,675.32L2170.75,682.49L2174.53,670.88L2164.65,663.71L2176.86,663.71ZM2191.04,652.10L2194.81,663.71L2207.01,663.71L2197.14,670.88L2200.91,682.49L2191.04,675.32L2181.16,682.49L2184.93,670.88L2175.06,663.71L2187.27,663.71ZM2201.44,652.10L2205.22,663.71L2217.42,663.71L2207.55,670.88L2211.32,682.49L2201.44,675.32L2191.57,682.49L2195.34,670.88L2185.47,663.71L2197.67,663.71ZM2211.85,652.10L2215.62,663.71L2227.83,663.71L2217.95,670.88L2221.73,682.49L2211.85,675.32L2201.98,682.49L2205.75,670.88L2195.87,663.71L2208.08,663.71ZM2222.26,652.10L2226.03,663.71L2238.24,663.71L2228.36,670.88L2232.13,682.49L2222.26,675.32L2212.38,682.49L2216.16,670.88L2206.28,663.71L2218.49,663.71ZM2232.67,652.10L2236.44,663.71L2248.64,663.71L2238.77,670.88L2242.54,682.49L2232.67,675.32L2222.79,682.49L2226.56,670.88L2216.69,663.71L2228.89,663.71ZM2243.07,652.10L2246.85,663.71L2259.05,663.71L2249.18,670.88L2252.95,682.49L2243.07,675.32L2233.20,682.49L2236.97,670.88L2227.10,663.71L2239.30,663.71ZM2253.48,652.10L2257.25,663.71L2269.46,663.71L2259.58,670.88L2263.36,682.49L2253.48,675.32L2243.61,682.49L2247.38,670.88L2237.50,663.71L2249.71,663.71ZM2263.89,652.10L2267.66,663.71L2279.87,663.71L2269.99,670.88L2273.76,682.49L2263.89,675.32L2254.01,682.49L2257.79,670.88L2247.91,663.71L2260.12,663.71ZM2274.30,652.10L2278.07,663.71L2290.27,663.71L2280.40,670.88L2284.17,682.49L2274.30,675.32L2264.42,682.49L2268.19,670.88L2258.32,663.71L2270.52,663.71ZM2284.70,654.70L2288.47,666.31L2300.68,666.31L2290.81,673.48L2294.58,685.09L2284.70,677.92L2274.83,685.09L2278.60,673.48L2268.72,666.31L2280.93,666.31ZM2295.11,673.80L2298.88,685.41L2311.09,685.41L2301.21,692.58L2304.98,704.19L2295.11,697.02L2285.24,704.19L2289.01,692.58L2279.13,685.41L2291.34,685.41Z" fill="#000"/></g>
<line x1="213.5" x2="213.5" y1="27.8" y2="724.00" stroke="#000" stroke-width="3.0"/>
<line x1="212.00" x2="2308.1" y1="722.5" y2="722.5" stroke="#000" stroke-width="3.0"/>
<line x1="213.50" x2="213.50" y1="722.5" y2="737.10" stroke="#000" stroke-width="3.0"/>
<text x="212.85" y="780.8" font-size="41.5" text-anchor="middle">0</text>
<line x1="474.50" x2="474.50" y1="722.5" y2="737.10" stroke="#000" stroke-width="3.0"/>
<text x="471.73" y="780.8" font-size="41.5" text-anchor="middle">25</text>
<line x1="734.50" x2="734.50" y1="722.5" y2="737.10" stroke="#000" stroke-width="3.0"/>
<text x="732.01" y="780.8" font-size="41.5" text-anchor="middle">50</text>
<line x1="994.50" x2="994.50" y1="722.5" y2="737.10" stroke="#000" stroke-width="3.0"/>
<text x="991.60" y="780.8" font-size="41.5" text-anchor="middle">75</text>
<line x1="1254.50" x2="1254.50" y1="722.5" y2="737.10" stroke="#000" stroke-width="3.0"/>
<text x="1250.98" y="780.8" font-size="41.5" text-anchor="middle">100</text>
<line x1="1514.50" x2="1514.50" y1="722.5" y2="737.10" stroke="#000" stroke-width="3.0"/>
<text x="1510.86" y="780.8" font-size="41.5" text-anchor="middle">125</text>
<line x1="1775.50" x2="1775.50" y1="722.5" y2="737.10" stroke="#000" stroke-width="3.0"/>
<text x="1772.44" y="780.8" font-size="41.5" text-anchor="middle">150</text>
<line x1="2035.50" x2="2035.50" y1="722.5" y2="737.10" stroke="#000" stroke-width="3.0"/>
<text x="2031.13" y="780.8" font-size="41.5" text-anchor="middle">175</text>
<line x1="2295.50" x2="2295.50" y1="722.5" y2="737.10" stroke="#000" stroke-width="3.0"/>
<text x="2293.01" y="780.8" font-size="41.5" text-anchor="middle">200</text>
<line x1="198.90" x2="213.5" y1="61.50" y2="61.50" stroke="#000" stroke-width="3.0"/>
<text x="181.3" y="61.00" font-size="28.5" text-anchor="end" textLength="16.6" lengthAdjust="spacingAndGlyphs">0</text>
<text x="164.20" y="76.20" font-size="41.5" text-anchor="end">10</text>
<line x1="198.90" x2="213.5" y1="175.50" y2="175.50" stroke="#000" stroke-width="3.0"/>
<text x="181.3" y="174.90" font-size="28.5" text-anchor="end" textLength="16.6" lengthAdjust="spacingAndGlyphs">3</text>
<rect x="142.1" y="166.75" width="19.4" height="1.7" fill="#000"/>
<text x="138.30" y="190.10" font-size="41.5" text-anchor="end">10</text>
<line x1="198.90" x2="213.5" y1="289.50" y2="289.50" stroke="#000" stroke-width="3.0"/>
<text x="181.3" y="288.80" font-size="28.5" text-anchor="end" textLength="16.6" lengthAdjust="spacingAndGlyphs">6</text>
<rect x="142.1" y="280.65" width="19.4" height="1.7" fill="#000"/>
<text x="138.30" y="304.00" font-size="41.5" text-anchor="end">10</text>
<line x1="198.90" x2="213.5" y1="403.50" y2="403.50" stroke="#000" stroke-width="3.0"/>
<text x="181.3" y="402.70" font-size="28.5" text-anchor="end" textLength="16.6" lengthAdjust="spacingAndGlyphs">9</text>
<rect x="142.1" y="394.55" width="19.4" height="1.7" fill="#000"/>
<text x="138.30" y="417.90" font-size="41.5" text-anchor="end">10</text>
<line x1="198.90" x2="213.5" y1="517.50" y2="517.50" stroke="#000" stroke-width="3.0"/>
<text x="181.3" y="516.60" font-size="28.5" text-anchor="end" textLength="33.2" lengthAdjust="spacingAndGlyphs">12</text>
<rect x="126.2" y="508.45" width="19.5" height="1.7" fill="#000"/>
<text x="123.30" y="531.80" font-size="41.5" text-anchor="end">10</text>
<line x1="198.90" x2="213.5" y1="631.50" y2="631.50" stroke="#000" stroke-width="3.0"/>
<text x="181.3" y="630.50" font-size="28.5" text-anchor="end" textLength="33.2" lengthAdjust="spacingAndGlyphs">15</text>
<rect x="126.2" y="622.35" width="19.5" height="1.7" fill="#000"/>
<text x="123.30" y="645.70" font-size="41.5" text-anchor="end">10</text>
<text x="1071.8" y="835.5" font-size="42.5" textLength="150.8" lengthAdjust="spacingAndGlyphs">Singular</text>
<text x="1238.4" y="835.5" font-size="42.5" textLength="92.5" lengthAdjust="spacingAndGlyphs">value</text>
<text x="1344.8" y="835.5" font-size="42.5" textLength="97.2" lengthAdjust="spacingAndGlyphs">index</text>
<text transform="translate(59.2,620.5) rotate(-90)" font-size="42.5" textLength="205.2" lengthAdjust="spacingAndGlyphs">Normalized</text>
<text transform="translate(59.2,400.2) rotate(-90)" font-size="42.5" textLength="143.2" lengthAdjust="spacingAndGlyphs">singular</text>
<text transform="translate(59.2,242.0) rotate(-90)" font-size="42.5" textLength="108.4" lengthAdjust="spacingAndGlyphs">values</text>
<text x="2299.2" y="242.9" font-size="41.5" text-anchor="end" fill="#808080" textLength="149.5" lengthAdjust="spacingAndGlyphs" id="thr">1.00e-05</text>
<text x="332.6" y="713.9" font-size="41.5" fill="#808080" textLength="15" lengthAdjust="spacingAndGlyphs">r</text>
<rect x="364.4" y="698.95" width="27.5" height="1.9" fill="#808080"/><rect x="364.4" y="706.85" width="27.5" height="1.9" fill="#808080"/>
<text x="408.2" y="713.9" font-size="41.5" fill="#808080">11</text>
</svg></body></html>
